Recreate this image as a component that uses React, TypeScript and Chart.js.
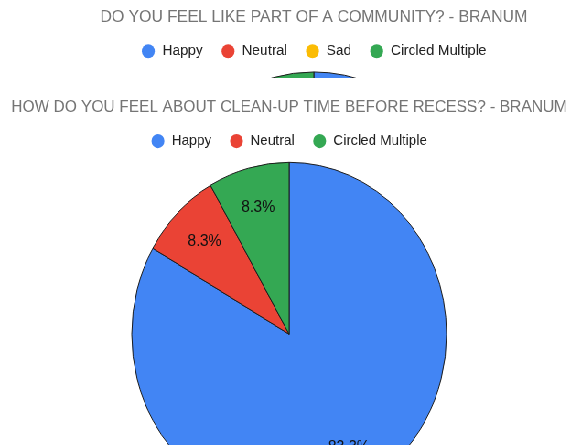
import React, { useEffect, useRef } from "react";
import { Chart, registerables } from "chart.js";

Chart.register(...registerables);

const FONT = "Arial, 'Liberation Sans', Helvetica, sans-serif";

// Survey 1: community
const communityTitle = "DO YOU FEEL LIKE PART OF A COMMUNITY? - BRANUM";
const communityCategories = ["Happy", "Neutral", "Sad", "Circled Multiple"];
const communityCounts = [15, 4, 1, 4];
const communityColors = ["#4285F4", "#EA4335", "#FBBC04", "#34A853"];

// Survey 2: clean-up time
const cleanupTitle = "HOW DO YOU FEEL ABOUT CLEAN-UP TIME BEFORE RECESS? - BRANUM";
const cleanupCategories = ["Happy", "Neutral", "Circled Multiple"];
const cleanupCounts = [10, 1, 1];
const cleanupColors = ["#4285F4", "#EA4335", "#34A853"];

// horizontal compression applied to the whole sheet
const H_SCALE = 0.915;

const sliceLabels = {
  id: "sliceLabels",
  afterDatasetsDraw(chart: any) {
    const ctx = chart.ctx;
    const meta = chart.getDatasetMeta(0);
    const data = chart.data.datasets[0].data as number[];
    const total = data.reduce((a, b) => a + b, 0);
    ctx.save();
    ctx.font = `16px ${FONT}`;
    ctx.fillStyle = "#111111";
    ctx.textAlign = "center";
    ctx.textBaseline = "middle";
    meta.data.forEach((arc: any, i: number) => {
      const { x, y, startAngle, endAngle, outerRadius } = arc.getProps(
        ["x", "y", "startAngle", "endAngle", "outerRadius"],
        true
      );
      const mid = (startAngle + endAngle) / 2;
      const d = outerRadius * 0.76;
      const pct = ((data[i] / total) * 100).toFixed(1) + "%";
      ctx.fillText(pct, x + Math.cos(mid) * d, y + Math.sin(mid) * d);
    });
    ctx.restore();
  },
};

type PieProps = {
  title: string;
  categories: string[];
  counts: number[];
  colors: string[];
  width: number;
  height: number;
  titleSize: number;
  legendSize: number;
  titlePadTop: number;
  titlePadBottom: number;
  radius: number;
};

function SurveyPie(p: PieProps) {
  const ref = useRef<HTMLCanvasElement | null>(null);
  useEffect(() => {
    if (!ref.current) return;
    const chart = new Chart(ref.current, {
      type: "pie",
      data: {
        labels: p.categories,
        datasets: [
          {
            data: p.counts,
            backgroundColor: p.colors,
            borderColor: "#1c1c1c",
            borderWidth: 1,
            radius: p.radius,
          } as any,
        ],
      },
      options: {
        responsive: false,
        animation: false,
        devicePixelRatio: 1,
        layout: { padding: 0 },
        plugins: {
          title: {
            display: true,
            text: p.title,
            color: "#757575",
            font: { family: FONT, size: p.titleSize, weight: "normal" },
            padding: { top: p.titlePadTop, bottom: p.titlePadBottom },
          },
          legend: {
            display: true,
            position: "top",
            labels: {
              usePointStyle: true,
              pointStyle: "circle",
              boxHeight: 10,
              padding: 20,
              color: "#222222",
              font: { family: FONT, size: p.legendSize },
              generateLabels: (c: any) => {
                const base = (Chart as any).overrides.pie.plugins.legend.labels.generateLabels(c);
                return base.map((it: any) => ({ ...it, strokeStyle: it.fillStyle, lineWidth: 0 }));
              },
            },
          },
          tooltip: { enabled: false },
        },
      },
      plugins: [sliceLabels],
    });
    return () => chart.destroy();
  }, []);
  return <canvas ref={ref} width={p.width} height={p.height} style={{ display: "block" }} />;
}

export default function App() {
  return (
    <div
      style={{
        position: "fixed",
        left: 0,
        top: 0,
        width: 568,
        height: 445,
        overflow: "hidden",
        background: "#ffffff",
      }}
    >
      <div
        style={{
          position: "absolute",
          left: 0,
          top: 0,
          width: 700,
          height: 445,
          transform: `scaleX(${H_SCALE})`,
          transformOrigin: "0 0",
        }}
      >
        <div style={{ position: "absolute", left: 0, top: 0, width: 700, height: 78, overflow: "hidden" }}>
          <SurveyPie
            title={communityTitle}
            categories={communityCategories}
            counts={communityCounts}
            colors={communityColors}
            width={686}
            height={419}
            titleSize={17.4}
            legendSize={15.3}
            titlePadTop={6.8}
            titlePadBottom={-4.1}
            radius={172}
          />
        </div>
        <div
          style={{
            position: "absolute",
            left: 0,
            top: 78,
            width: 700,
            height: 367,
            overflow: "hidden",
            background: "#ffffff",
          }}
        >
          <SurveyPie
            title={cleanupTitle}
            categories={cleanupCategories}
            counts={cleanupCounts}
            colors={cleanupColors}
            width={632}
            height={432}
            titleSize={17}
            legendSize={15}
            titlePadTop={18.8}
            titlePadBottom={-3.6}
            radius={172}
          />
        </div>
      </div>
    </div>
  );
}
